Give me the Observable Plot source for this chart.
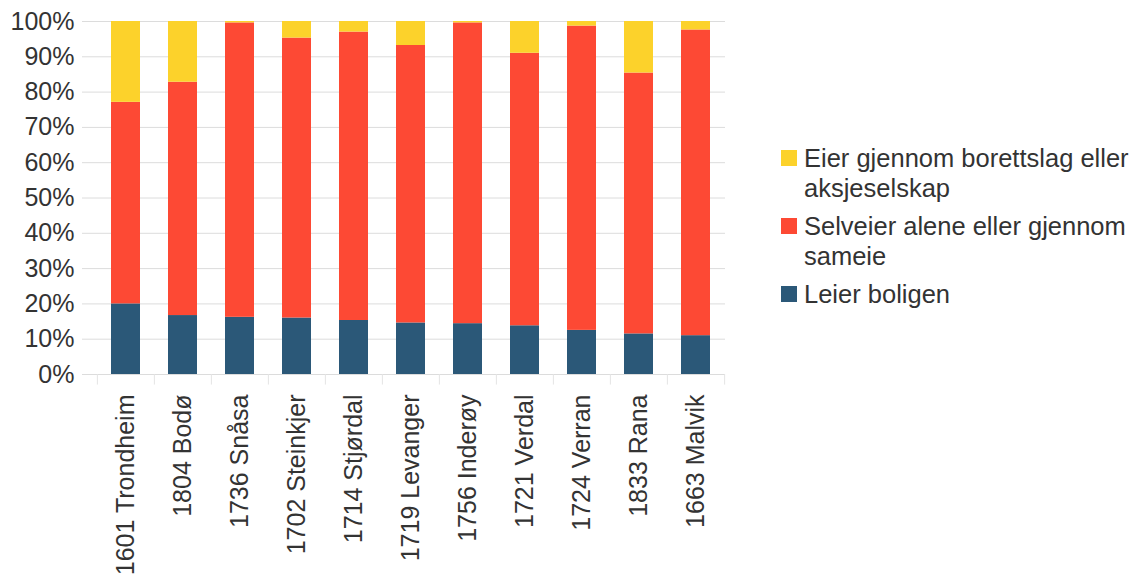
<!DOCTYPE html>
<html>
<head>
<meta charset="utf-8">
<script src="https://cdn.jsdelivr.net/npm/d3@7"></script>
<script src="https://cdn.jsdelivr.net/npm/@observablehq/plot@0.6"></script>
<style>
  html, body { margin: 0; padding: 0; background: #fff; }
  #wrap { position: relative; width: 1140px; height: 578px; overflow: hidden; font-family: "Liberation Sans", Arial, sans-serif; }
  #legend { position: absolute; left: 781px; top: 143px; color: #333; font-size: 25.5px; line-height: 30px; }
  .item { display: flex; align-items: flex-start; margin-bottom: 8px; }
  .sw { width: 16px; height: 16px; margin-top: 7px; margin-right: 7px; flex: none; }
</style>
</head>
<body>
<div id="wrap">
  <div id="chart"></div>
  <div id="legend"></div>
</div>
<script>
const categories = ["1601 Trondheim", "1804 Bodø", "1736 Snåsa", "1702 Steinkjer", "1714 Stjørdal", "1719 Levanger", "1756 Inderøy", "1721 Verdal", "1724 Verran", "1833 Rana", "1663 Malvik"];
const seriesNames = ["Leier boligen", "Selveier alene eller gjennom sameie", "Eier gjennom borettslag eller aksjeselskap"];
const leier    = [20.0, 16.7, 16.2, 16.0, 15.3, 14.6, 14.4, 13.8, 12.5, 11.5, 11.0];
const selveier = [57.1, 66.1, 83.4, 79.3, 81.7, 78.6, 85.2, 77.2, 86.2, 73.9, 86.6];
const eier     = [22.9, 17.2, 0.4, 4.7, 3.0, 6.8, 0.4, 9.0, 1.3, 14.6, 2.4];
const colors = ["#2b5878", "#fd4934", "#fcd22b"];
const yTicks = [0, 10, 20, 30, 40, 50, 60, 70, 80, 90, 100];

const series = [leier, selveier, eier];
const data = [];
categories.forEach((c, i) => {
  series.forEach((s, k) => data.push({cat: c, series: seriesNames[k], value: s[i]}));
});

const W = 770, ML = 95, MR = 45;
const step = (W - ML - MR) / categories.length;

const chart = Plot.plot({
  width: W,
  height: 578,
  marginLeft: ML,
  marginRight: MR,
  marginTop: 21,
  marginBottom: 204,
  style: {fontFamily: "Liberation Sans, Arial, sans-serif", background: "transparent"},
  x: {domain: categories, paddingInner: 0.5, paddingOuter: 0.25, label: null},
  y: {domain: [0, 100], label: null},
  color: {domain: seriesNames, range: colors},
  marks: [
    Plot.gridY(yTicks, {stroke: "#dcdcdc", strokeOpacity: 1, strokeWidth: 1}),
    Plot.ruleX(categories, {x: d => d, y1: 0, y2: -3, dx: -step / 2, stroke: "#e4e4e4"}),
    Plot.ruleX([categories[categories.length - 1]], {x: d => d, y1: 0, y2: -3, dx: step / 2, stroke: "#e4e4e4"}),
    Plot.barY(data, {x: "cat", y: "value", fill: "series"}),
    Plot.axisY(yTicks, {tickSize: 13, stroke: "#dcdcdc", fill: "#333", tickPadding: 8, fontSize: 25, tickFormat: d => d + "%", label: null}),
    Plot.axisX({tickSize: 0, tickPadding: 20, tickRotate: -90, fontSize: 25, fill: "#333", label: null})
  ]
});
document.getElementById("chart").appendChild(chart);

const legendLines = {
  2: ["Eier gjennom borettslag eller", "aksjeselskap"],
  1: ["Selveier alene eller gjennom", "sameie"],
  0: ["Leier boligen"]
};
const legend = document.getElementById("legend");
[2, 1, 0].forEach(k => {
  const item = document.createElement("div");
  item.className = "item";
  const sw = document.createElement("div");
  sw.className = "sw";
  sw.style.background = colors[k];
  const txt = document.createElement("div");
  txt.innerHTML = legendLines[k].join("<br>");
  item.appendChild(sw);
  item.appendChild(txt);
  legend.appendChild(item);
});
</script>
</body>
</html>
